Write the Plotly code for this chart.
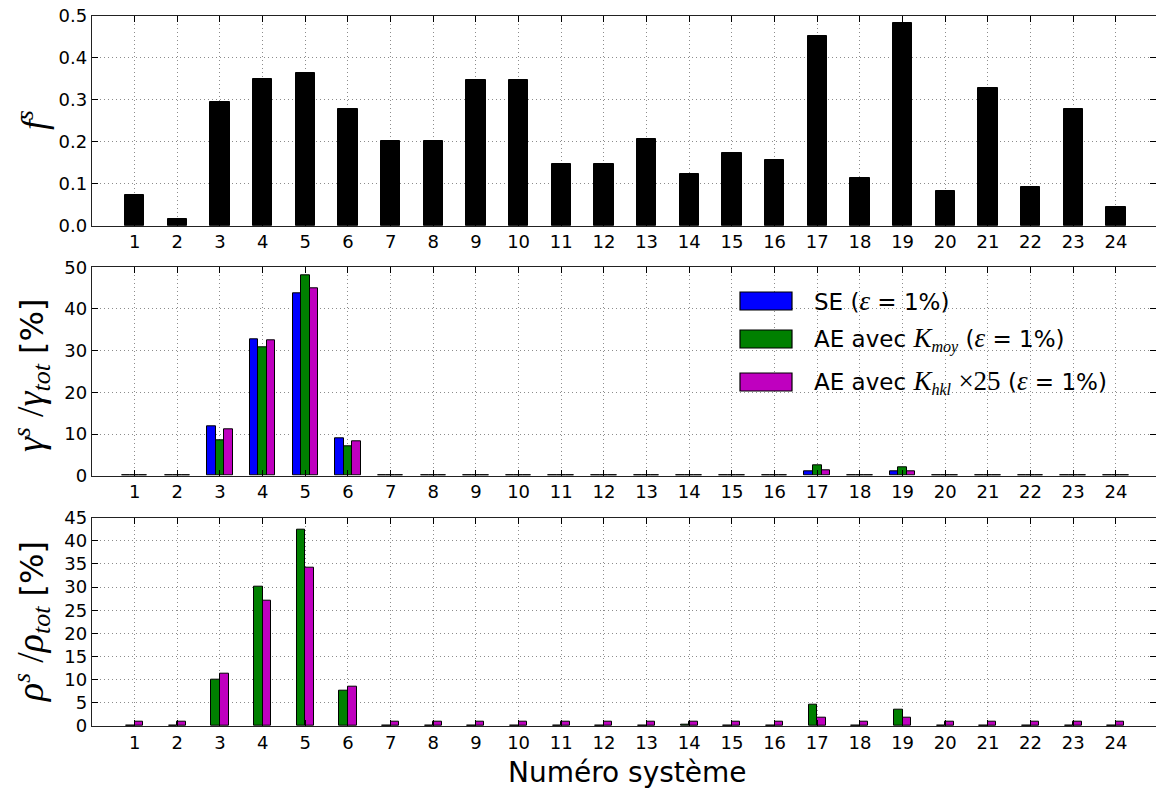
import plotly.graph_objects as go

systems = list(range(1, 25))
tick_labels = [str(i) for i in systems]

f_s = [0.073, 0.017, 0.294, 0.350, 0.365, 0.279, 0.201, 0.201, 0.347, 0.347, 0.146, 0.146,
       0.206, 0.124, 0.174, 0.157, 0.452, 0.114, 0.484, 0.082, 0.329, 0.093, 0.279, 0.044]

gamma_se = [0, 0, 11.8, 32.8, 43.8, 8.9, 0, 0, 0, 0, 0, 0,
            0.05, 0.1, 0.05, 0, 1.1, 0, 1.0, 0, 0, 0, 0, 0]
gamma_ae_moy = [0, 0, 8.6, 30.7, 48.2, 7.1, 0, 0, 0, 0, 0, 0,
                0.1, 0.2, 0.1, 0, 2.5, 0, 1.9, 0, 0, 0, 0, 0]
gamma_ae_hkl = [0, 0, 11.1, 32.6, 45.0, 8.2, 0, 0, 0, 0, 0, 0,
                0.05, 0.1, 0.05, 0, 1.2, 0, 1.0, 0, 0, 0, 0, 0]

rho_ae_moy = [0.1, 0, 10.0, 30.2, 42.4, 7.6, 0, 0, 0, 0, 0, 0,
              0.1, 0.2, 0.15, 0.1, 4.6, 0, 3.6, 0, 0.05, 0, 0.05, 0]
rho_ae_hkl = [0.86, 0.86, 11.2, 27.1, 34.2, 8.5, 0.86, 0.86, 0.86, 0.86, 0.86, 0.86,
              0.86, 0.86, 0.86, 0.86, 1.7, 0.86, 1.7, 0.86, 0.86, 0.86, 0.86, 0.86]

legend_names = ["SE", "AE avec K_moy", "AE avec K_hkl x25"]
c_blue, c_green, c_mag = "#0000ff", "#008000", "#bf00bf"

W, H = 1156, 793
L = 92
fig = go.Figure()
edge = dict(color="black", width=1)

fig.add_trace(go.Bar(x=systems, y=f_s, width=0.45, marker=dict(color="black", line=edge),
                     xaxis="x", yaxis="y", name="f_s", showlegend=False))
for vals, col, off, nm in [(gamma_se, c_blue, -0.3, legend_names[0]),
                            (gamma_ae_moy, c_green, -0.1, legend_names[1]),
                            (gamma_ae_hkl, c_mag, 0.1, legend_names[2])]:
    fig.add_trace(go.Bar(x=systems, y=vals, width=0.2, offset=off,
                         marker=dict(color=col, line=edge),
                         xaxis="x2", yaxis="y2", name=nm, showlegend=False))
for vals, col, off, nm in [(rho_ae_moy, c_green, -0.2, legend_names[1]),
                            (rho_ae_hkl, c_mag, 0.0, legend_names[2])]:
    fig.add_trace(go.Bar(x=systems, y=vals, width=0.2, offset=off,
                         marker=dict(color=col, line=edge),
                         xaxis="x3", yaxis="y3", name=nm, showlegend=False))

def ydom(top_px, bot_px):
    return [1 - bot_px / H, 1 - top_px / H]

tickfont = dict(family="DejaVu Sans", size=18, color="black")
grid = dict(showgrid=True, gridcolor="#8c8c8c", griddash="1px,3px", gridwidth=1)
common_x = dict(range=[0, 24.94], tickvals=systems, ticktext=tick_labels, ticks="inside",
                ticklen=6, tickcolor="black", showline=True, linecolor="#222", linewidth=1.3,
                mirror="ticks", tickfont=tickfont, zeroline=False, automargin=False, **grid)
common_y = dict(ticks="inside", ticklen=6, tickcolor="black", showline=True, linecolor="#222",
                linewidth=1.3, mirror="ticks", tickfont=tickfont, zeroline=False,
                automargin=False, **grid)

fig.update_layout(
    width=W, height=H, margin=dict(l=L, r=0, t=0, b=0, autoexpand=False),
    plot_bgcolor="white", paper_bgcolor="white", barmode="overlay", bargap=0,
    font=dict(family="DejaVu Sans", color="black"),
    xaxis=dict(anchor="y", **common_x),
    xaxis2=dict(anchor="y2", **common_x),
    xaxis3=dict(anchor="y3", **common_x),
    yaxis=dict(anchor="x", domain=ydom(16, 225.7), range=[0, 0.5], dtick=0.1, tickformat=".1f", **common_y),
    yaxis2=dict(anchor="x2", domain=ydom(267.3, 475.7), range=[0, 50], dtick=10, **common_y),
    yaxis3=dict(anchor="x3", domain=ydom(517.7, 726), range=[0, 45], dtick=5, **common_y),
)

serif = "font-family:'Liberation Serif'"
def m(t, size=None):
    extra = f";font-size:{size}px" if size else ""
    return f"<span style=\"{serif}{extra}\"><i>{t}</i></span>"

def xp(px):
    return (px - L) / (W - L)

ann = []
sup_s = f"<sup><span style=\"{serif};font-size:25px\"><i>s</i></span></sup>"
sl = f"<span style=\"{serif};font-size:38px\">/</span>"
ann.append(dict(text=m("f", 36) + sup_s, x=xp(32), y=1 - 120 / H, textangle=-90, font=dict(size=32)))
ann.append(dict(text=m("γ", 38) + sup_s + " " + sl + m("γ", 38) +
                f"<sub>{m('tot', 26)}</sub> [%]",
                x=xp(32), y=1 - 376 / H, textangle=-90, font=dict(size=32)))
ann.append(dict(text=m("ρ", 38) + sup_s + " " + sl + m("ρ", 38) +
                f"<sub>{m('tot', 26)}</sub> [%]",
                x=xp(32), y=1 - 622 / H, textangle=-90, font=dict(size=32)))
ann.append(dict(text="Numéro système", x=xp(627), y=1 - 772 / H, font=dict(size=28)))

# legend (drawn in middle panel)
leg_rows = [301, 339, 382]
def mb(t):
    return f"<span style=\"{serif};font-size:27px\"><i>{t}</i></span>"
leg_text = ["SE (" + mb("ε") + " = 1%)",
            "AE avec " + mb("K") + "<sub>" + m("moy") + "</sub> (" + mb("ε") + " = 1%)",
            "AE avec " + mb("K") + "<sub>" + m("hkl") + "</sub> " +
            f"<span style=\"{serif};font-size:27px\">×25</span> (" + mb("ε") + " = 1%)"]
shapes = []
for yc, col, txt in zip(leg_rows, [c_blue, c_green, c_mag], leg_text):
    shapes.append(dict(type="rect", xref="paper", yref="paper",
                       x0=xp(740), x1=xp(792),
                       y0=1 - (yc + 9) / H, y1=1 - (yc - 9) / H,
                       fillcolor=col, line=dict(color="black", width=1.2)))
    ann.append(dict(text=txt, x=xp(812), y=1 - yc / H, xanchor="left",
                    font=dict(size=23)))

for a in ann:
    a.setdefault("xanchor", "center")
    a.update(xref="paper", yref="paper", showarrow=False, yanchor="middle")
fig.update_layout(annotations=ann, shapes=shapes)

fig.write_html("out.html", config={"displayModeBar": False},
               post_script="document.body.style.margin='0';document.body.style.overflow='hidden';")
